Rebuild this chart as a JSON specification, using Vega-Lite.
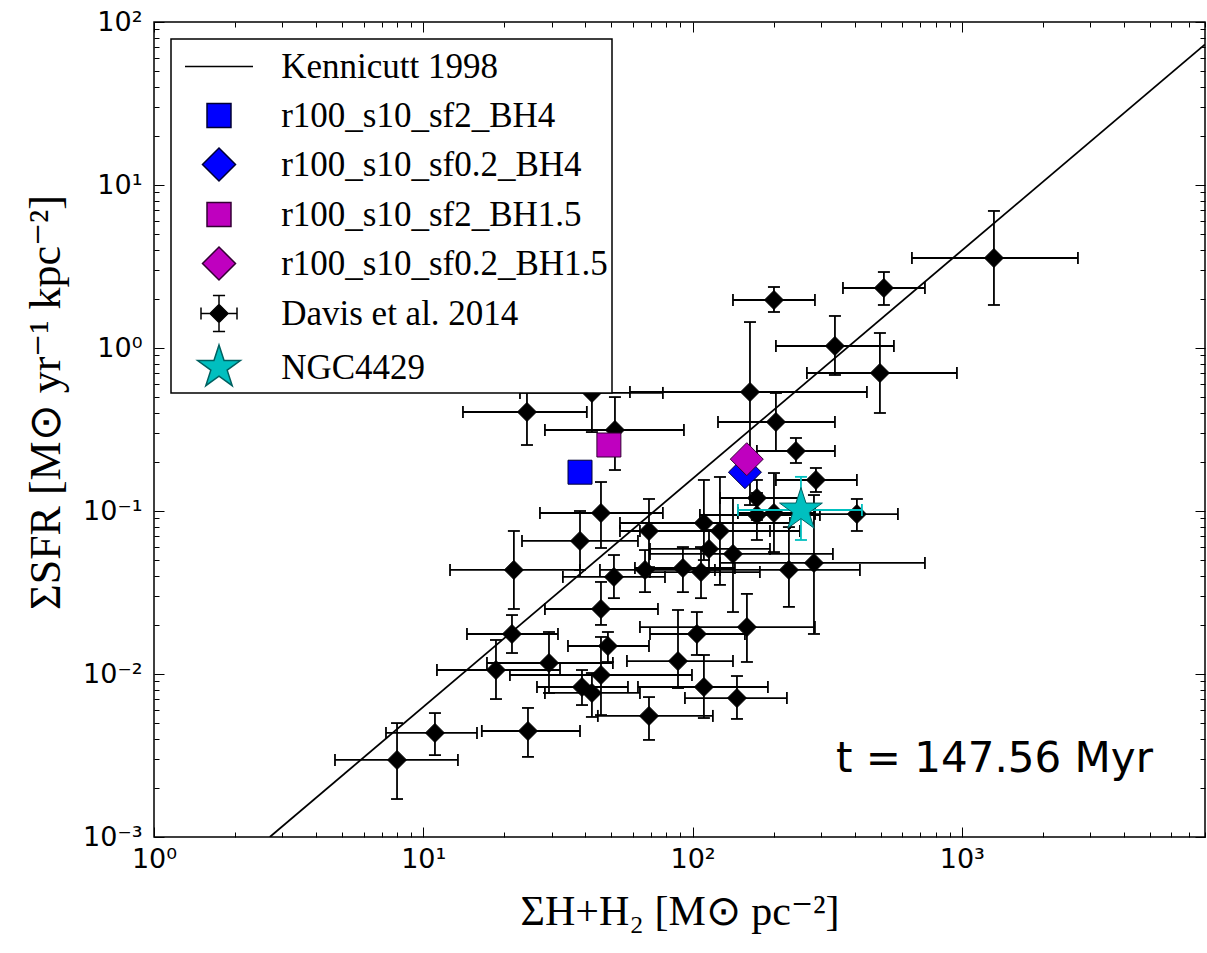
{
  "$schema": "https://vega.github.io/schema/vega-lite/v6.json",
  "width": 1051,
  "height": 815,
  "autosize": {"type": "none"},
  "padding": {"left": 154, "top": 22, "right": 2, "bottom": 116},
  "background": "white",
  "config": {"view": {"stroke": "black", "strokeWidth": 1.5}},
  "datasets": {
    "kenn": [{"x": 2.692, "y": 0.001}, {"x": 8000, "y": 72.9}],
    "davis": [
      {"x": 1316, "xlo": 652.7, "xhi": 2699, "y": 3.565, "ylo": 1.836, "yhi": 6.93},
      {"x": 513.6, "xlo": 361.9, "xhi": 729.5, "y": 2.334, "ylo": 1.836, "yhi": 2.925},
      {"x": 200.6, "xlo": 141.3, "xhi": 284.8, "y": 1.97, "ylo": 1.663, "yhi": 2.367},
      {"x": 337.9, "xlo": 204.0, "xhi": 559.5, "y": 1.029, "ylo": 0.683, "yhi": 1.572},
      {"x": 496.4, "xlo": 265.9, "xhi": 959, "y": 0.7025, "ylo": 0.3993, "yhi": 1.236},
      {"x": 163.4, "xlo": 58.55, "xhi": 444.2, "y": 0.537, "ylo": 0.1088, "yhi": 1.443},
      {"x": 204.0, "xlo": 124.3, "xhi": 337.9, "y": 0.3516, "ylo": 0.2334, "yhi": 0.5296},
      {"x": 242.1, "xlo": 173.4, "xhi": 337.9, "y": 0.2334, "ylo": 0.197, "yhi": 0.2805},
      {"x": 287.2, "xlo": 204.0, "xhi": 407.7, "y": 0.155, "ylo": 0.1308, "yhi": 0.1836},
      {"x": 407.7, "xlo": 284.8, "xhi": 579, "y": 0.0958, "ylo": 0.0754, "yhi": 0.1185},
      {"x": 173.4, "xlo": 126.4, "xhi": 250.5, "y": 0.1202, "ylo": 0.0881, "yhi": 0.155},
      {"x": 173.4, "xlo": 106.5, "xhi": 297.2, "y": 0.0945, "ylo": 0.0664, "yhi": 0.129},
      {"x": 200.6, "xlo": 147.4, "xhi": 284.8, "y": 0.0972, "ylo": 0.056, "yhi": 0.171},
      {"x": 110.2, "xlo": 53.76, "xhi": 230.0, "y": 0.0844, "ylo": 0.05, "yhi": 0.155},
      {"x": 126.4, "xlo": 63.78, "xhi": 250.5, "y": 0.0754, "ylo": 0.0352, "yhi": 0.1617},
      {"x": 115.1, "xlo": 69.5, "xhi": 193.9, "y": 0.0585, "ylo": 0.0435, "yhi": 0.0765},
      {"x": 141.3, "xlo": 69.5, "xhi": 332.1, "y": 0.0545, "ylo": 0.024, "yhi": 0.1202},
      {"x": 92.1, "xlo": 61.1, "xhi": 143.7, "y": 0.0447, "ylo": 0.0318, "yhi": 0.0601},
      {"x": 107.5, "xlo": 69.5, "xhi": 177.9, "y": 0.0422, "ylo": 0.0292, "yhi": 0.0601},
      {"x": 228.0, "xlo": 121.1, "xhi": 418.4, "y": 0.0435, "ylo": 0.0258, "yhi": 0.0797},
      {"x": 282.4, "xlo": 126.4, "xhi": 729.5, "y": 0.048, "ylo": 0.0176, "yhi": 0.1253},
      {"x": 159.2, "xlo": 63.78, "xhi": 284.8, "y": 0.0194, "ylo": 0.01185, "yhi": 0.031},
      {"x": 103.8, "xlo": 69.5, "xhi": 156.5, "y": 0.0176, "ylo": 0.01308, "yhi": 0.024},
      {"x": 88.3, "xlo": 57.06, "xhi": 141.3, "y": 0.012, "ylo": 0.0082, "yhi": 0.0247},
      {"x": 110.2, "xlo": 62.7, "xhi": 190.5, "y": 0.00832, "ylo": 0.00537, "yhi": 0.01308},
      {"x": 146.2, "xlo": 93.7, "xhi": 224.1, "y": 0.00712, "ylo": 0.0053, "yhi": 0.00972},
      {"x": 68.9, "xlo": 44.5, "xhi": 119.0, "y": 0.00553, "ylo": 0.00394, "yhi": 0.00722},
      {"x": 45.7, "xlo": 27.12, "xhi": 77.6, "y": 0.0972, "ylo": 0.0593, "yhi": 0.1506},
      {"x": 38.2, "xlo": 23.26, "xhi": 62.7, "y": 0.0655, "ylo": 0.0435, "yhi": 0.1},
      {"x": 21.7, "xlo": 12.57, "xhi": 38.2, "y": 0.0435, "ylo": 0.02505, "yhi": 0.0754},
      {"x": 68.9, "xlo": 53.76, "xhi": 193.9, "y": 0.0754, "ylo": 0.0453, "yhi": 0.1185},
      {"x": 51.06, "xlo": 33.0, "xhi": 79.0, "y": 0.0394, "ylo": 0.0292, "yhi": 0.0537},
      {"x": 66.6, "xlo": 45.3, "xhi": 126.4, "y": 0.0435, "ylo": 0.0318, "yhi": 0.0576},
      {"x": 45.7, "xlo": 28.3, "xhi": 74.4, "y": 0.02505, "ylo": 0.02, "yhi": 0.0367},
      {"x": 21.35, "xlo": 14.53, "xhi": 31.64, "y": 0.0176, "ylo": 0.01345, "yhi": 0.023},
      {"x": 48.5, "xlo": 34.46, "xhi": 68.9, "y": 0.01485, "ylo": 0.01185, "yhi": 0.0181},
      {"x": 29.3, "xlo": 17.24, "xhi": 50.6, "y": 0.01168, "ylo": 0.00765, "yhi": 0.0181},
      {"x": 18.62, "xlo": 11.24, "xhi": 32.2, "y": 0.01058, "ylo": 0.00702, "yhi": 0.01617},
      {"x": 45.7, "xlo": 20.98, "xhi": 99.5, "y": 0.00986, "ylo": 0.0056, "yhi": 0.01687},
      {"x": 38.85, "xlo": 26.44, "xhi": 57.56, "y": 0.00832, "ylo": 0.00645, "yhi": 0.01058},
      {"x": 42.3, "xlo": 28.3, "xhi": 63.78, "y": 0.00765, "ylo": 0.00545, "yhi": 0.01014},
      {"x": 11.05, "xlo": 7.27, "xhi": 15.83, "y": 0.00435, "ylo": 0.00318, "yhi": 0.00576},
      {"x": 24.48, "xlo": 16.5, "xhi": 38.2, "y": 0.00447, "ylo": 0.0031, "yhi": 0.00619},
      {"x": 7.99, "xlo": 4.7, "xhi": 13.45, "y": 0.00297, "ylo": 0.00171, "yhi": 0.005},
      {"x": 24.27, "xlo": 14.04, "xhi": 40.5, "y": 0.405, "ylo": 0.254, "yhi": 0.636},
      {"x": 42.3, "xlo": 22.86, "xhi": 77.6, "y": 0.53, "ylo": 0.305, "yhi": 0.844},
      {"x": 51.5, "xlo": 28.3, "xhi": 92.9, "y": 0.314, "ylo": 0.1784, "yhi": 0.5}
    ],
    "ngc": [{"x": 252.7, "xlo": 147.4, "xhi": 425.6, "y": 0.1014, "ylo": 0.0664, "yhi": 0.162}],
    "pts": [
      {"series": "r100_s10_sf2_BH4", "x": 38.2, "y": 0.173},
      {"series": "r100_s10_sf0.2_BH4", "x": 156.5, "y": 0.173},
      {"series": "r100_s10_sf2_BH1.5", "x": 48.9, "y": 0.254},
      {"series": "r100_s10_sf0.2_BH1.5", "x": 159, "y": 0.208},
      {"series": "NGC4429", "x": 252.7, "y": 0.1014}
    ]
  },
  "resolve": {"axis": {"x": "independent", "y": "independent"}},
  "layer": [
    {
      "data": {"name": "kenn"},
      "mark": {"type": "line", "color": "black", "strokeWidth": 1.8, "clip": true},
      "encoding": {
        "x": {"field": "x", "type": "quantitative", "scale": {"type": "log", "domain": [1, 8000], "nice": false},
          "axis": {"orient": "bottom", "values": [1,2,3,4,5,6,7,8,9,10,20,30,40,50,60,70,80,90,100,200,300,400,500,600,700,800,900,1000,2000,3000,4000,5000,6000,7000,8000],
            "labelExpr": "abs(log(datum.value)/LN10 - round(log(datum.value)/LN10)) < 0.01 ? ['10⁰','10¹','10²','10³'][round(log(datum.value)/LN10)] : ''",
            "tickSize": {"condition": {"test": "abs(log(datum.value)/LN10 - round(log(datum.value)/LN10)) < 0.01", "value": -10}, "value": -5},
            "tickColor": "black", "tickWidth": 1, "domain": false, "grid": false,
            "labelFont": "DejaVu Sans", "labelFontSize": 27, "labelColor": "black", "labelPadding": 19, "labelFlush": false, "labelOverlap": false,
            "title": "ΣH+H₂ [M⊙ pc⁻²]", "titleFont": "Liberation Serif", "titleFontSize": 42, "titleFontWeight": "normal", "titleColor": "black", "titlePadding": 14}},
        "y": {"field": "y", "type": "quantitative", "scale": {"type": "log", "domain": [0.001, 100], "nice": false},
          "axis": {"orient": "left", "values": [0.001,0.002,0.003,0.004,0.005,0.006,0.007,0.008,0.009,0.01,0.02,0.03,0.04,0.05,0.06,0.07,0.08,0.09,0.1,0.2,0.3,0.4,0.5,0.6,0.7,0.8,0.9,1,2,3,4,5,6,7,8,9,10,20,30,40,50,60,70,80,90,100],
            "labelExpr": "abs(log(datum.value)/LN10 - round(log(datum.value)/LN10)) < 0.01 ? ['10⁻³','10⁻²','10⁻¹','10⁰','10¹','10²'][round(log(datum.value)/LN10)+3] : ''",
            "tickSize": {"condition": {"test": "abs(log(datum.value)/LN10 - round(log(datum.value)/LN10)) < 0.01", "value": -10}, "value": -5},
            "tickColor": "black", "tickWidth": 1, "domain": false, "grid": false,
            "labelFont": "DejaVu Sans", "labelFontSize": 27, "labelColor": "black", "labelPadding": 22, "labelFlush": false, "labelOverlap": false,
            "title": "ΣSFR  [M⊙ yr⁻¹  kpc⁻²]", "titleFont": "Liberation Serif", "titleFontSize": 44, "titleFontWeight": "normal", "titleColor": "black", "titlePadding": 14, "titleY": 380}}
      }
    },
    {
      "data": {"name": "davis"},
      "mark": {"type": "rule", "color": "black", "strokeWidth": 1.8},
      "encoding": {
        "x": {"field": "xlo", "type": "quantitative", "scale": {"type": "log", "domain": [1, 8000], "nice": false},
          "axis": {"orient": "top", "values": [1,2,3,4,5,6,7,8,9,10,20,30,40,50,60,70,80,90,100,200,300,400,500,600,700,800,900,1000,2000,3000,4000,5000,6000,7000,8000],
            "labels": false, "title": null, "domain": false, "grid": false, "tickColor": "black", "tickWidth": 1,
            "tickSize": {"condition": {"test": "abs(log(datum.value)/LN10 - round(log(datum.value)/LN10)) < 0.01", "value": -10}, "value": -5}}},
        "x2": {"field": "xhi"},
        "y": {"field": "y", "type": "quantitative", "scale": {"type": "log", "domain": [0.001, 100], "nice": false},
          "axis": {"orient": "right", "values": [0.001,0.002,0.003,0.004,0.005,0.006,0.007,0.008,0.009,0.01,0.02,0.03,0.04,0.05,0.06,0.07,0.08,0.09,0.1,0.2,0.3,0.4,0.5,0.6,0.7,0.8,0.9,1,2,3,4,5,6,7,8,9,10,20,30,40,50,60,70,80,90,100],
            "labels": false, "title": null, "domain": false, "grid": false, "tickColor": "black", "tickWidth": 1,
            "tickSize": {"condition": {"test": "abs(log(datum.value)/LN10 - round(log(datum.value)/LN10)) < 0.01", "value": -10}, "value": -5}}}
      }
    },
    {
      "data": {"name": "davis"},
      "mark": {"type": "rule", "color": "black", "strokeWidth": 1.8},
      "encoding": {
        "x": {"field": "x", "type": "quantitative", "axis": null},
        "y": {"field": "ylo", "type": "quantitative", "axis": null},
        "y2": {"field": "yhi"}
      }
    },
    {
      "data": {"name": "davis"},
      "transform": [{"fold": ["xlo", "xhi"], "as": ["k", "xc"]}],
      "mark": {"type": "tick", "orient": "vertical", "color": "black", "size": 12, "thickness": 1.8, "opacity": 1},
      "encoding": {
        "x": {"field": "xc", "type": "quantitative", "axis": null},
        "y": {"field": "y", "type": "quantitative", "axis": null}
      }
    },
    {
      "data": {"name": "davis"},
      "transform": [{"fold": ["ylo", "yhi"], "as": ["k", "yc"]}],
      "mark": {"type": "tick", "orient": "horizontal", "color": "black", "size": 12, "thickness": 1.8, "opacity": 1},
      "encoding": {
        "x": {"field": "x", "type": "quantitative", "axis": null},
        "y": {"field": "yc", "type": "quantitative", "axis": null}
      }
    },
    {
      "data": {"name": "davis"},
      "mark": {"type": "point", "shape": "diamond", "size": 361, "filled": true, "fill": "black", "stroke": "black", "strokeWidth": 1, "opacity": 1},
      "encoding": {
        "x": {"field": "x", "type": "quantitative", "axis": null},
        "y": {"field": "y", "type": "quantitative", "axis": null}
      }
    },
    {
      "data": {"name": "ngc"},
      "mark": {"type": "rule", "color": "#00bfbf", "strokeWidth": 1.8},
      "encoding": {
        "x": {"field": "xlo", "type": "quantitative", "axis": null},
        "x2": {"field": "xhi"},
        "y": {"field": "y", "type": "quantitative", "axis": null}
      }
    },
    {
      "data": {"name": "ngc"},
      "mark": {"type": "rule", "color": "#00bfbf", "strokeWidth": 1.8},
      "encoding": {
        "x": {"field": "x", "type": "quantitative", "axis": null},
        "y": {"field": "ylo", "type": "quantitative", "axis": null},
        "y2": {"field": "yhi"}
      }
    },
    {
      "data": {"name": "ngc"},
      "transform": [{"fold": ["xlo", "xhi"], "as": ["k", "xc"]}],
      "mark": {"type": "tick", "orient": "vertical", "color": "#00bfbf", "size": 12, "thickness": 1.8, "opacity": 1},
      "encoding": {
        "x": {"field": "xc", "type": "quantitative", "axis": null},
        "y": {"field": "y", "type": "quantitative", "axis": null}
      }
    },
    {
      "data": {"name": "ngc"},
      "transform": [{"fold": ["ylo", "yhi"], "as": ["k", "yc"]}],
      "mark": {"type": "tick", "orient": "horizontal", "color": "#00bfbf", "size": 12, "thickness": 1.8, "opacity": 1},
      "encoding": {
        "x": {"field": "x", "type": "quantitative", "axis": null},
        "y": {"field": "yc", "type": "quantitative", "axis": null}
      }
    },
    {
      "data": {"name": "pts"},
      "mark": {"type": "point", "size": 2025, "strokeWidth": 1, "opacity": 1, "filled": true},
      "encoding": {
        "x": {"field": "x", "type": "quantitative", "axis": null},
        "y": {"field": "y", "type": "quantitative", "axis": null},
        "fill": {"field": "series", "type": "nominal",
          "scale": {"domain": ["Kennicutt 1998", "r100_s10_sf2_BH4", "r100_s10_sf0.2_BH4", "r100_s10_sf2_BH1.5", "r100_s10_sf0.2_BH1.5", "Davis et al. 2014", "NGC4429"],
                    "range": ["black", "#0000ff", "#0000ff", "#bf00bf", "#bf00bf", "black", "#00bfbf"]},
          "legend": {"title": null, "orient": "top-left", "offset": 17, "padding": 4, "fillColor": "white", "strokeColor": "black", "cornerRadius": 0,
            "symbolSize": 2025, "symbolStrokeWidth": 1.5, "symbolOffset": 20.5, "labelOffset": 38.7, "rowPadding": 7,
            "labelFont": "Liberation Serif", "labelFontSize": 35, "labelColor": "black", "labelLimit": 1000, "symbolOpacity": 1,
            "encode": {"legend": {"update": {"strokeWidth": {"value": 1.5}}}}}},
        "stroke": {"field": "series", "type": "nominal",
          "scale": {"domain": ["Kennicutt 1998", "r100_s10_sf2_BH4", "r100_s10_sf0.2_BH4", "r100_s10_sf2_BH1.5", "r100_s10_sf0.2_BH1.5", "Davis et al. 2014", "NGC4429"],
                    "range": ["black", "#000033", "#000033", "#330033", "#330033", "black", "#006060"]}},
        "shape": {"field": "series", "type": "nominal",
          "scale": {"domain": ["Kennicutt 1998", "r100_s10_sf2_BH4", "r100_s10_sf0.2_BH4", "r100_s10_sf2_BH1.5", "r100_s10_sf0.2_BH1.5", "Davis et al. 2014", "NGC4429"],
                    "range": [
                      "M-1.511,0L1.511,0",
                      "M-0.533,-0.533L0.533,-0.533L0.533,0.533L-0.533,0.533Z",
                      "M0,-0.733L0.733,0L0,0.733L-0.733,0Z",
                      "M-0.533,-0.533L0.533,-0.533L0.533,0.533L-0.533,0.533Z",
                      "M0,-0.733L0.733,0L0,0.733L-0.733,0Z",
                      "M0,-0.4L0.4,0L0,0.4L-0.4,0Z M-0.8,0L0.8,0 M0,-0.8L0,0.8 M-0.8,-0.27L-0.8,0.27 M0.8,-0.27L0.8,0.27 M-0.27,-0.8L0.27,-0.8 M-0.27,0.8L0.27,0.8",
                      "M0,-1L0.2245,-0.309L0.9511,-0.309L0.3633,0.118L0.5878,0.809L0,0.382L-0.5878,0.809L-0.3633,0.118L-0.9511,-0.309L-0.2245,-0.309Z"
                    ]}}
      }
    },
    {
      "data": {"values": [{}]},
      "mark": {"type": "text", "align": "left", "baseline": "alphabetic", "font": "DejaVu Sans", "fontSize": 42, "color": "black"},
      "encoding": {
        "x": {"datum": 340.8, "type": "quantitative", "axis": null},
        "y": {"datum": 0.0025, "type": "quantitative", "axis": null},
        "text": {"value": "t = 147.56 Myr"}
      }
    }
  ]
}
